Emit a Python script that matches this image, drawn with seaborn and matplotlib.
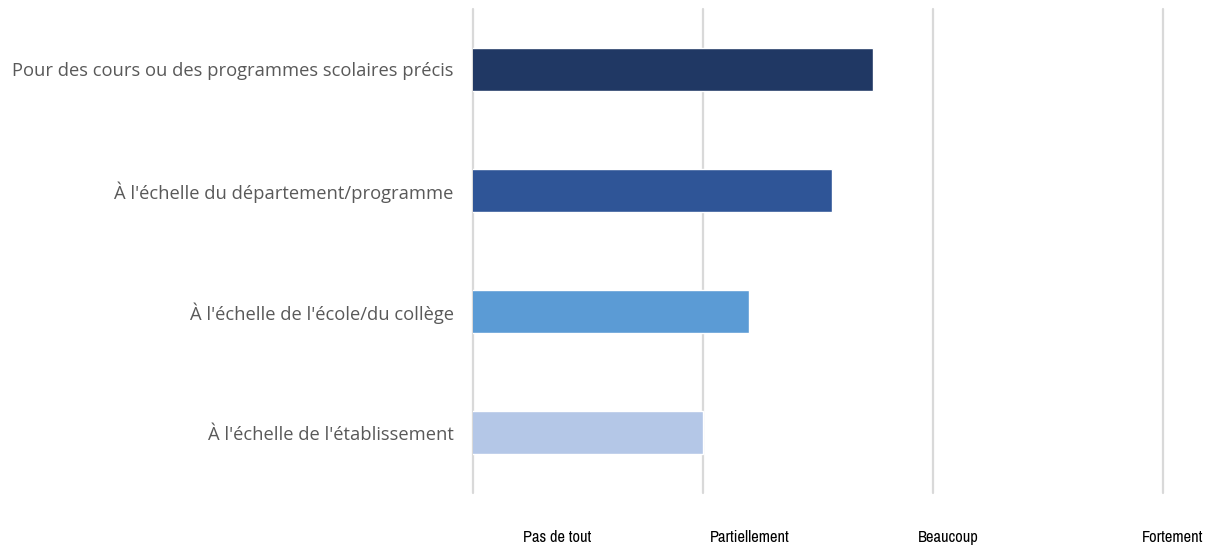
import matplotlib
matplotlib.use("Agg")
import matplotlib.pyplot as plt
import matplotlib.transforms as mtransforms
from matplotlib import font_manager
import seaborn as sns
import pandas as pd

# Data
categories = [
    "Pour des cours ou des programmes scolaires précis",
    "À l'échelle du département/programme",
    "À l'échelle de l'école/du collège",
    "À l'échelle de l'établissement",
]
scores = [2.74, 2.56, 2.20, 2.00]
scale_labels = ["Pas de tout", "Partiellement", "Beaucoup", "Fortement"]
scale_values = [1, 2, 3, 4]

colors = ["#203864", "#2F5597", "#5B9BD5", "#B4C7E7"]

sns.set_style("white")
plt.rcParams["font.family"] = ["Open Sans", "DejaVu Sans"]


def narrow_font():
    """Return the file of a narrow regular face, preferring Liberation Sans Narrow."""
    entries = font_manager.fontManager.ttflist
    for test in (lambda f: "Narrow" in f.name,
                 lambda f: "Condensed" in f.name,
                 lambda f: f.stretch in ("condensed", "semi-condensed")
                 or "Condensed" in f.fname):
        for f in entries:
            if test(f) and f.style == "normal" and f.weight in (400, "normal", "regular"):
                return f.fname
    return None


narrow_file = narrow_font()

df = pd.DataFrame({"cat": categories, "score": scores})

fig = plt.figure(figsize=(12.13, 5.48), dpi=100)
W, H = 1213, 548
ax = fig.add_axes([473 / W, 1 - 493 / H, (1163 - 473) / W, (493 - 9) / H])

sns.barplot(data=df, y="cat", x="score", hue="cat", palette=colors,
            orient="h", width=0.35, dodge=False, legend=False, ax=ax,
            saturation=1)

ax.set_xlim(1, 4)
ax.set_ylim(3.5, -0.5)
for v in scale_values:
    ax.axvline(v, color="#d9d9d9", lw=1.6, zorder=0, clip_on=False)

for s in ax.spines.values():
    s.set_visible(False)
ax.set_xlabel("")
ax.set_ylabel("")
ax.set_xticks([])
ax.tick_params(axis="y", length=0, pad=14, labelsize=13.2, labelcolor="#595959")

# Scale labels beneath the plot area
if narrow_file:
    fp = font_manager.FontProperties(fname=narrow_file, size=11.8)
else:
    fp = font_manager.FontProperties(family=["Open Sans", "DejaVu Sans"], size=9.8)
label_x = [1.365, 2.204, 3.065, 4.043]
trans = mtransforms.blended_transform_factory(ax.transData, ax.transAxes)
for x, lab in zip(label_x, scale_labels):
    ax.text(x, -0.091, lab, transform=trans, ha="center", va="center",
            color="#000000", fontproperties=fp)

fig.savefig("out.png", dpi=100)
